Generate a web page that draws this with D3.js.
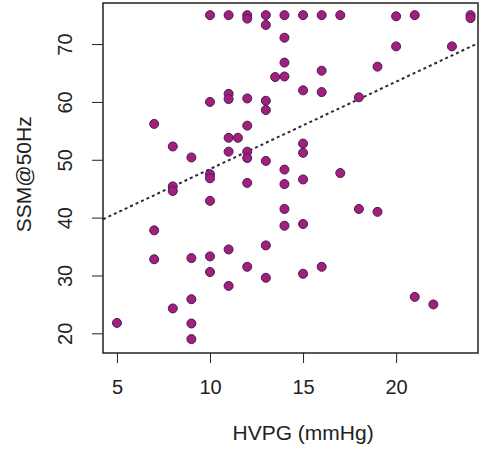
<!DOCTYPE html>
<html>
<head>
<meta charset="utf-8">
<script src="https://cdn.jsdelivr.net/npm/d3@7"></script>
<style>
  body { margin: 0; background: #fff; }
  #chart { width: 481px; height: 452px; }
  .axis text { font-family: "Liberation Sans", Arial, sans-serif; font-size: 20px; fill: #222; }
  .axis line { stroke: #222; }
  .axisLabel { font-family: "Liberation Sans", Arial, sans-serif; font-size: 21px; fill: #222; text-anchor: middle; }
</style>
</head>
<body>
<div id="chart"></div>
<script>
// HVPG (x) vs SSM@50Hz (y)
const hvpg = [
  5,
  7, 7, 7,
  8, 8, 8, 8,
  9, 9, 9, 9, 9,
  10, 10, 10, 10, 10, 10, 10,
  11, 11, 11, 11, 11, 11, 11,
  11.5,
  12, 12, 12, 12, 12, 12, 12, 12,
  13, 13, 13, 13, 13, 13, 13,
  13.5,
  14, 14, 14, 14, 14, 14, 14, 14,
  15, 15, 15, 15, 15, 15, 15,
  16, 16, 16, 16,
  17, 17,
  18, 18,
  19, 19,
  20, 20,
  21, 21,
  22,
  23,
  24, 24
];
const ssm = [
  21.8,
  56.2, 37.8, 32.8,
  52.3, 45.4, 44.6, 24.3,
  50.4, 33, 25.9, 21.7, 19,
  75, 60, 47.5, 46.8, 42.9, 33.3, 30.6,
  75, 61.4, 60.5, 53.8, 51.4, 34.5, 28.2,
  53.8,
  75, 74.4, 60.6, 55.9, 51.4, 50.3, 46, 31.5,
  75, 73.3, 60.2, 58.6, 49.8, 35.2, 29.6,
  64.3,
  75, 71.1, 66.8, 64.4, 48.3, 45.8, 41.5, 38.6,
  75, 62, 52.8, 51.2, 46.6, 38.9, 30.3,
  75, 65.4, 61.7, 31.5,
  75, 47.7,
  60.8, 41.5,
  66.1, 41,
  74.8, 69.6,
  75, 26.3,
  25,
  69.6,
  75, 74.5
];
const xTicks = [5, 10, 15, 20];
const yTicks = [20, 30, 40, 50, 60, 70];
// fitted line: intercept, slope
const fitLine = [33.3, 1.51];

const data = hvpg.map((x, i) => ({ x: x, y: ssm[i] }));

const width = 481, height = 452;
const margin = { top: 3, left: 103, right: 3, bottom: 99 };

const svg = d3.select("#chart")
  .append("svg")
  .attr("width", width)
  .attr("height", height);

const xScale = d3.scaleLinear()
  .domain([4.25, 24.4])
  .range([margin.left, width - margin.right]);

const yScale = d3.scaleLinear()
  .domain([16.6, 77.1])
  .range([height - margin.bottom, margin.top]);

// axes
const xAxis = svg.append("g")
  .attr("class", "axis")
  .attr("transform", `translate(0,${height - margin.bottom})`)
  .call(d3.axisBottom(xScale).tickValues(xTicks).tickSize(10).tickPadding(17));
xAxis.select(".domain").remove();

const yAxis = svg.append("g")
  .attr("class", "axis")
  .attr("transform", `translate(${margin.left},0)`)
  .call(d3.axisLeft(yScale).tickValues(yTicks).tickSize(11));
yAxis.select(".domain").remove();
// R style: y tick labels parallel to the axis
yAxis.selectAll(".tick text")
  .attr("x", null)
  .attr("transform", "translate(-38,0) rotate(-90)")
  .attr("dy", "0.35em")
  .style("text-anchor", "middle");

// clip for line
svg.append("clipPath").attr("id", "plotClip")
  .append("rect")
  .attr("x", margin.left)
  .attr("y", margin.top)
  .attr("width", width - margin.left - margin.right)
  .attr("height", height - margin.top - margin.bottom);

// regression line
const xd = xScale.domain();
svg.append("line")
  .attr("clip-path", "url(#plotClip)")
  .attr("x1", xScale(xd[0]))
  .attr("y1", yScale(fitLine[0] + fitLine[1] * xd[0]))
  .attr("x2", xScale(xd[1]))
  .attr("y2", yScale(fitLine[0] + fitLine[1] * xd[1]))
  .attr("stroke", "#2a2a3a")
  .attr("stroke-width", 2)
  .attr("stroke-dasharray", "3,3");

// points
svg.selectAll(".dot")
  .data(data)
  .enter()
  .append("circle")
    .attr("class", "dot")
    .attr("cx", d => xScale(d.x))
    .attr("cy", d => yScale(d.y))
    .attr("r", 4.5)
    .attr("fill", "#a1207c")
    .attr("stroke", "#4a1858")
    .attr("stroke-width", 1);

// frame
svg.append("rect")
  .attr("x", margin.left)
  .attr("y", margin.top)
  .attr("width", width - margin.left - margin.right)
  .attr("height", height - margin.top - margin.bottom)
  .attr("fill", "none")
  .attr("stroke", "#222")
  .attr("stroke-width", 1.5);

// axis labels
svg.append("text")
  .attr("class", "axisLabel")
  .attr("x", xScale(15))
  .attr("y", 440)
  .text("HVPG (mmHg)");

svg.append("text")
  .attr("class", "axisLabel")
  .attr("transform", "rotate(-90)")
  .attr("x", -yScale(47.5))
  .attr("y", 31)
  .text("SSM@50Hz");
</script>
</body>
</html>
